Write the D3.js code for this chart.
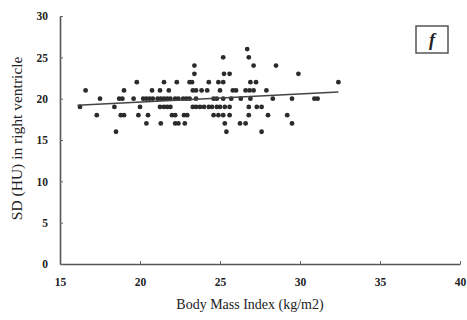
<!DOCTYPE html>
<html>
<head>
<meta charset="utf-8">
<script src="https://d3js.org/d3.v7.min.js"></script>
<style>
  body { margin: 0; background: #fff; }
  text { font-family: "Liberation Serif", "DejaVu Serif", serif; fill: #222; }
</style>
</head>
<body>
<svg width="467" height="320"></svg>
<script>
// SD (HU) levels and the BMI values read at each level
var sdLevels = [16, 17, 18, 19, 20, 21, 22, 23, 24, 25, 26];
var bmi16 = [18.5, 25.4, 27.6];
var bmi17 = [20.4, 21.3, 22.2, 22.4, 22.8, 25.3, 26.25, 26.6, 29.5];
var bmi18 = [17.3, 18.8, 19.0, 19.9, 20.5, 22.0, 22.2, 22.75, 22.95, 24.6, 24.9, 25.2, 25.6, 26.8, 28.0, 29.2];
var bmi19 = [16.25, 18.4, 20.0, 21.25, 21.5, 21.7, 21.9, 23.3, 23.5, 23.75, 24.0, 24.3, 24.5, 24.8, 25.0, 25.3, 25.6, 26.8, 27.3, 27.6];
var bmi20 = [17.5, 18.7, 18.9, 19.6, 20.2, 20.4, 20.6, 20.8, 21.1, 21.3, 21.5, 21.7, 21.9, 22.2, 22.4, 22.7, 22.9, 23.1, 23.5, 24.6, 24.8, 25.2, 25.7, 26.3, 26.9, 28.3, 29.5, 30.9, 31.1];
var bmi21 = [16.6, 19.0, 20.75, 21.25, 21.8, 23.3, 23.5, 23.85, 24.2, 25.0, 25.8, 26.0, 26.6, 26.85, 27.1, 27.9];
var bmi22 = [19.8, 21.5, 22.3, 23.1, 23.25, 24.3, 24.9, 25.2, 26.9, 27.25, 32.4];
var bmi23 = [23.4, 25.25, 25.6, 29.9];
var bmi24 = [23.4, 27.1, 28.5];
var bmi25 = [25.2, 26.8];
var bmi26 = [26.7];
var bmiByLevel = [bmi16, bmi17, bmi18, bmi19, bmi20, bmi21, bmi22, bmi23, bmi24, bmi25, bmi26];

// fitted line end points [bmi, sd]
var fitBmi = [16.1, 32.4];
var fitSd = [19.2, 20.8];

var xTicks = [15, 20, 25, 30, 35, 40];
var yTicks = [0, 5, 10, 15, 20, 25, 30];

var points = [];
sdLevels.forEach(function(s, i) {
    bmiByLevel[i].forEach(function(b) { points.push({bmi: b, sd: s}); });
});

var margin = {top: 16, right: 7, bottom: 56, left: 60},
    width = 467 - margin.left - margin.right,
    height = 320 - margin.top - margin.bottom;

var x = d3.scaleLinear().domain([15, 40]).range([0, width]);
var y = d3.scaleLinear().domain([0, 30]).range([height, 0]);

var svg = d3.select("svg")
    .append("g")
    .attr("transform", "translate(" + margin.left + "," + margin.top + ")");

// axes
var xAxis = svg.append("g")
    .attr("transform", "translate(0," + height + ")")
    .call(d3.axisBottom(x).tickValues(xTicks).tickSizeInner(-3).tickSizeOuter(0).tickPadding(14));
var yAxis = svg.append("g")
    .call(d3.axisLeft(y).tickValues(yTicks).tickSizeInner(-3).tickSizeOuter(0).tickPadding(12));

[xAxis, yAxis].forEach(function(a) {
    a.select(".domain").attr("stroke", "#555").attr("stroke-width", 1.6);
    a.selectAll(".tick line").attr("stroke", "#666");
    a.selectAll(".tick text")
        .attr("font-family", "Liberation Serif, serif")
        .attr("font-size", 11.5)
        .attr("font-weight", "bold")
        .attr("fill", "#444");
});

// points
svg.selectAll(".dot")
    .data(points)
  .enter().append("circle")
    .attr("class", "dot")
    .attr("cx", function(d) { return x(d.bmi); })
    .attr("cy", function(d) { return y(d.sd); })
    .attr("r", 2.4)
    .attr("fill", "#2b2b2b");

// regression line
svg.append("line")
    .attr("x1", x(fitBmi[0])).attr("y1", y(fitSd[0]))
    .attr("x2", x(fitBmi[1])).attr("y2", y(fitSd[1]))
    .attr("stroke", "#444")
    .attr("stroke-width", 1.5);

// axis titles
svg.append("text")
    .attr("x", x(27.5) - 10)
    .attr("y", height + 45)
    .attr("text-anchor", "middle")
    .attr("font-size", 14)
    .text("Body Mass  Index (kg/m2)");

svg.append("text")
    .attr("transform", "translate(" + (-38) + "," + y(15.2) + ") rotate(-90)")
    .attr("text-anchor", "middle")
    .attr("font-size", 15.5)
    .text("SD (HU) in right ventricle");

// panel label
svg.append("rect")
    .attr("x", 356).attr("y", 10)
    .attr("width", 32).attr("height", 27)
    .attr("fill", "none")
    .attr("stroke", "#555")
    .attr("stroke-width", 1.5);
svg.append("text")
    .attr("x", 372).attr("y", 30)
    .attr("text-anchor", "middle")
    .attr("font-size", 18)
    .attr("font-weight", "bold")
    .attr("font-style", "italic")
    .text("f");
</script>
</body>
</html>
